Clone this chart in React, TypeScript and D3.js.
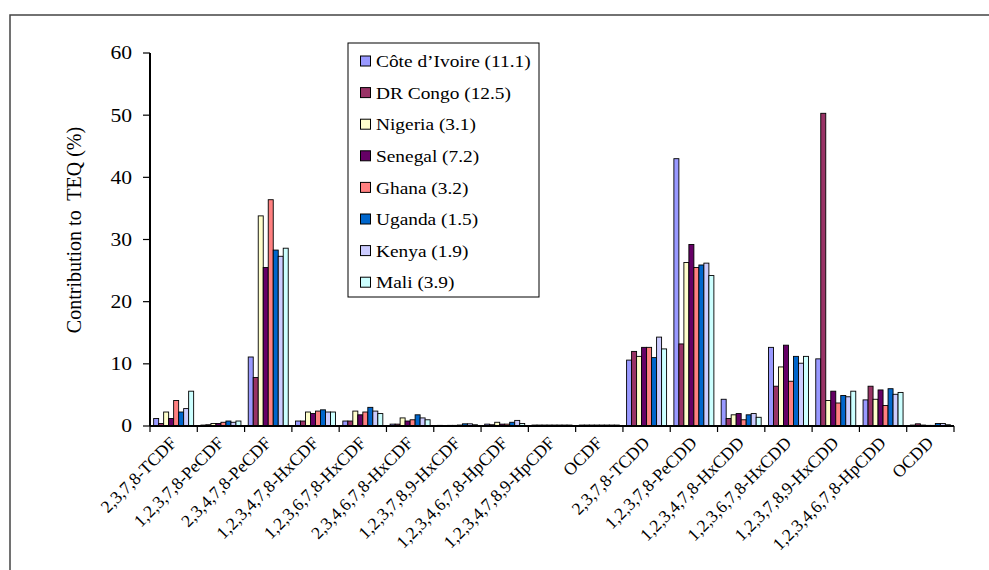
import React from "react";
import * as d3 from "d3";

const categories = [
  "2,3,7,8-TCDF",
  "1,2,3,7,8-PeCDF",
  "2,3,4,7,8-PeCDF",
  "1,2,3,4,7,8-HxCDF",
  "1,2,3,6,7,8-HxCDF",
  "2,3,4,6,7,8-HxCDF",
  "1,2,3,7,8,9-HxCDF",
  "1,2,3,4,6,7,8-HpCDF",
  "1,2,3,4,7,8,9-HpCDF",
  "OCDF",
  "2,3,7,8-TCDD",
  "1,2,3,7,8-PeCDD",
  "1,2,3,4,7,8-HxCDD",
  "1,2,3,6,7,8-HxCDD",
  "1,2,3,7,8,9-HxCDD",
  "1,2,3,4,6,7,8-HpCDD",
  "OCDD",
];

const seriesNames = [
  "Côte d’Ivoire (11.1)",
  "DR Congo (12.5)",
  "Nigeria (3.1)",
  "Senegal (7.2)",
  "Ghana (3.2)",
  "Uganda (1.5)",
  "Kenya (1.9)",
  "Mali (3.9)",
];

const seriesColors = ["#9999FF", "#993366", "#FFFFCC", "#660066", "#FF8080", "#0066CC", "#CCCCFF", "#CCFFFF"];

const coteDIvoire = [1.2, 0.15, 11.1, 0.8, 0.8, 0.3, 0.1, 0.3, 0.15, 0.15, 10.6, 43.0, 4.3, 12.65, 10.8, 4.2, 0.15];
const drCongo = [0.4, 0.2, 7.8, 0.8, 0.8, 0.3, 0.05, 0.2, 0.15, 0.15, 12.0, 13.2, 1.2, 6.4, 50.3, 6.4, 0.35];
const nigeria = [2.25, 0.4, 33.8, 2.25, 2.4, 1.3, 0.1, 0.6, 0.15, 0.15, 11.2, 26.3, 1.8, 9.5, 4.1, 4.3, 0.15];
const senegal = [1.2, 0.4, 25.5, 2.0, 1.8, 0.8, 0.1, 0.3, 0.15, 0.15, 12.65, 29.2, 2.0, 13.0, 5.6, 5.8, 0.1];
const ghana = [4.1, 0.6, 36.4, 2.4, 2.25, 1.0, 0.15, 0.3, 0.15, 0.15, 12.65, 25.5, 1.0, 7.2, 3.7, 3.3, 0.1];
const uganda = [2.25, 0.8, 28.3, 2.6, 3.0, 1.8, 0.35, 0.6, 0.15, 0.15, 11.0, 25.9, 1.8, 11.2, 4.9, 6.0, 0.4];
const kenya = [2.8, 0.6, 27.3, 2.25, 2.4, 1.3, 0.35, 0.9, 0.15, 0.15, 14.3, 26.2, 2.0, 10.1, 4.7, 5.1, 0.4];
const mali = [5.6, 0.8, 28.6, 2.25, 2.0, 1.0, 0.2, 0.4, 0.15, 0.15, 12.4, 24.2, 1.4, 11.2, 5.6, 5.4, 0.2];

const seriesValues = [coteDIvoire, drCongo, nigeria, senegal, ghana, uganda, kenya, mali];

const yTicks = [0, 10, 20, 30, 40, 50, 60];

const FONT = "Liberation Serif";
const serifStyle = { fontFamily: FONT };

export default function App() {
  const W = 989;
  const H = 570;
  const left = 150;
  const right = 954;
  const top = 53;
  const bottom = 426;

  const x = d3.scaleBand<string>().domain(categories).range([left, right]).paddingInner(0).paddingOuter(0);
  const xs = d3
    .scaleBand<number>()
    .domain(d3.range(seriesNames.length))
    .range([0, x.bandwidth()])
    .paddingInner(0)
    .paddingOuter(0.73);
  const y = d3.scaleLinear().domain([0, 60]).range([bottom, top]);

  const legendX = 348;
  const legendY = 43;
  const legendW = 191;
  const legendH = 254;
  const rowH = 31.6;

  return (
    <svg width={W} height={H} style={{ position: "absolute", left: 0, top: 0, background: "#fff" }}>
      <rect x={10} y={15} width={1100} height={700} fill="#fff" stroke="#444" strokeWidth={1.5} />

      {/* bars */}
      {seriesValues.map((vals, si) =>
        vals.map((v, ci) => (
          <rect
            key={`${si}-${ci}`}
            x={(x(categories[ci]) as number) + (xs(si) as number)}
            y={y(v)}
            width={xs.bandwidth()}
            height={Math.max(0, y(0) - y(v))}
            fill={seriesColors[si]}
            stroke="#000"
            strokeWidth={0.9}
          />
        ))
      )}

      {/* y axis */}
      <line x1={left} x2={left} y1={top} y2={bottom} stroke="#000" strokeWidth={2} />
      {yTicks.map((t) => (
        <g key={t}>
          <line x1={left - 7} x2={left} y1={y(t)} y2={y(t)} stroke="#000" strokeWidth={1.2} />
          <text
            transform={`translate(${left - 18},${y(t)}) scale(1.2,1)`}
            dy="0.36em"
            textAnchor="end"
            fontSize={18}
            fill="#000"
            style={serifStyle}
          >
            {t}
          </text>
        </g>
      ))}
      <text
        transform={`translate(81,${230}) rotate(-90)`}
        textAnchor="middle"
        fontSize={20}
        fill="#000"
        style={{ ...serifStyle, whiteSpace: "pre" }}
      >
        {"Contribution to  TEQ (%)"}
      </text>

      {/* x axis */}
      <line x1={left} x2={right} y1={bottom} y2={bottom} stroke="#000" strokeWidth={2} />
      {[...categories.map((c) => x(c) as number), right].map((px, i) => (
        <line key={i} x1={px} x2={px} y1={bottom} y2={bottom + 6} stroke="#000" strokeWidth={1.2} />
      ))}
      {categories.map((c) => {
        const cx = (x(c) as number) + x.bandwidth() / 2 + 4;
        const cy = bottom + 18;
        return (
          <text
            key={c}
            transform={`translate(${cx},${cy}) rotate(-45)`}
            textAnchor="end"
            fontSize={17.5}
            fill="#000"
            style={serifStyle}
          >
            {c}
          </text>
        );
      })}

      {/* legend */}
      <rect x={legendX} y={legendY} width={legendW} height={legendH} fill="#fff" stroke="#000" strokeWidth={1} />
      {seriesNames.map((n, i) => {
        const cy = legendY + 18 + i * rowH;
        return (
          <g key={n}>
            <rect x={legendX + 12.5} y={cy - 5} width={10} height={10} fill={seriesColors[i]} stroke="#000" strokeWidth={1} />
            <text
              transform={`translate(${legendX + 28},${cy}) scale(1.1,1)`}
              dy="0.35em"
              fontSize={17.6}
              fill="#000"
              style={serifStyle}
            >
              {n}
            </text>
          </g>
        );
      })}
    </svg>
  );
}
